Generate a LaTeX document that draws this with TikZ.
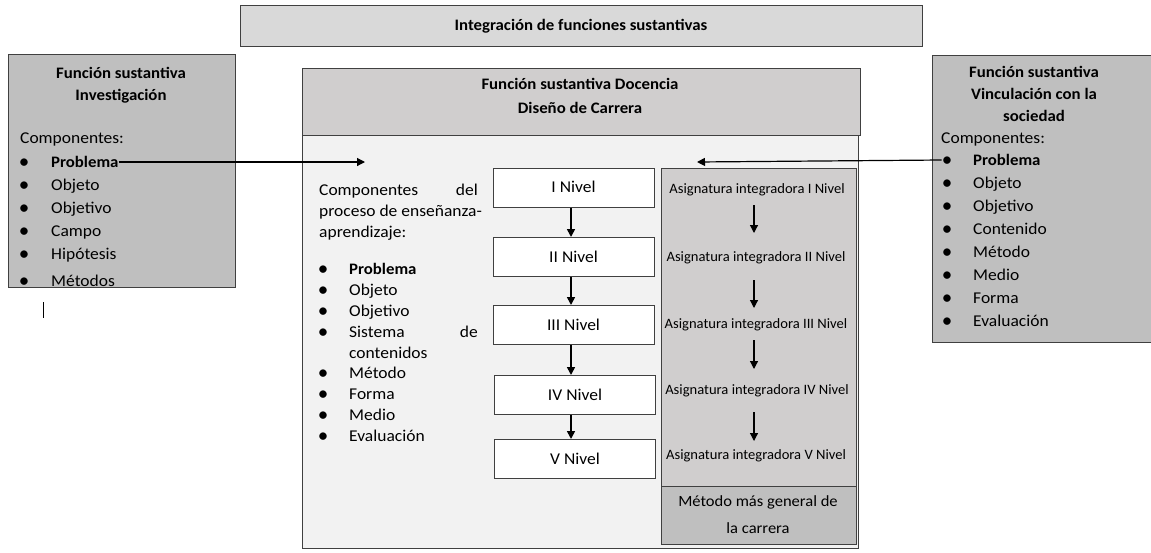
\documentclass[tikz,border=0pt]{standalone}
\usepackage{fontspec}
\setmainfont{Carlito}
\usetikzlibrary{arrows.meta}
\definecolor{topfill}{HTML}{D9D9D9}
\definecolor{sidefill}{HTML}{BFBFBF}
\definecolor{headfill}{HTML}{D0CECE}
\definecolor{bodyfill}{HTML}{F2F2F2}
\definecolor{edge}{HTML}{404040}
\newfontfamily\regfont[FakeStretch=1.06]{Carlito}
\newfontfamily\boldfont[FakeStretch=1.05]{Carlito Bold}
\newfontfamily\smallfont[FakeStretch=1.02]{Carlito}
\newcommand{\fr}{\regfont\fontsize{16.5}{19}\selectfont}
\newcommand{\fb}{\boldfont\fontsize{16}{19}\selectfont}
\newcommand{\fs}{\smallfont\fontsize{14.3}{17}\selectfont}
\newcommand{\fm}{\regfont\fontsize{15.6}{18}\selectfont}
\tikzset{
  frame/.style={draw=edge, line width=1pt},
  nivel/.style={frame, fill=white, minimum width=161pt, minimum height=39pt, inner sep=0pt, font=\fr, text depth=0pt, text height=10pt},
  t/.style={anchor=base west, inner sep=0pt, font=\fr},
  tr/.style={anchor=base east, inner sep=0pt, font=\fr},
  tc/.style={anchor=base, inner sep=0pt, font=\fb},
  tb/.style={anchor=base west, inner sep=0pt, font=\fb},
  asig/.style={anchor=base, inner sep=0pt, font=\fs},
  bul/.style={anchor=base, inner sep=0pt, font=\fontsize{21}{21}\selectfont},
  arr/.style={-{Triangle[length=8pt,width=8pt]}, line width=1.6pt},
  arrthin/.style={-{Triangle[length=8pt,width=8pt]}, line width=1.2pt},
}
\begin{document}
\begin{tikzpicture}[x=1pt,y=-1pt]
\useasboundingbox (0,0) rectangle (1151,552);
% top box
\node[frame, fill=topfill, minimum width=682pt, minimum height=41pt, anchor=north west, inner sep=0pt] (top) at (240,5) {};
\node[tc] (toptxt) at (581,30) {Integración de funciones sustantivas};

% left box
\node[frame, fill=sidefill, minimum width=227pt, minimum height=233pt, anchor=north west, inner sep=0pt] (left) at (8,54) {};
\node[tc] (lt1) at (121,78) {Función sustantiva};
\node[tc] (lt2) at (121,100) {Investigación};
\node[t] (lc) at (20,143) {Componentes:};
\begin{scope}
\clip (8,54) rectangle (235,286.5);
\node[bul] (lb1) at (24,168) {•};
\node[tb] (lp) at (51,167) {Problema};
\node[bul] (lb2) at (24,191) {•};
\node[t] (lo1) at (51,190) {Objeto};
\node[bul] (lb3) at (24,214) {•};
\node[t] (lo2) at (51,213) {Objetivo};
\node[bul] (lb4) at (24,237) {•};
\node[t] (lo3) at (51,236) {Campo};
\node[bul] (lb5) at (24,260) {•};
\node[t] (lo4) at (51,259) {Hipótesis};
\node[bul] (lb6) at (24,287) {•};
\node[t] (lo5) at (51,286.5) {Métodos};
\end{scope}
\coordinate (cur1) at (43,302);
\coordinate (cur2) at (43,318);
\draw[line width=1pt] (cur1) -- (cur2);

% middle big box
\node[frame, fill=bodyfill, minimum width=556pt, minimum height=480pt, anchor=north west, inner sep=0pt] (mid) at (302,68) {};
\node[frame, fill=headfill, minimum width=558pt, minimum height=67pt, anchor=north west, inner sep=0pt] (head) at (302,68) {};
\node[tc] (h1) at (580,89) {Función sustantiva Docencia};
\node[tc] (h2) at (580,113) {Diseño de Carrera};

\node[t] (c1) at (319,195) {Componentes};
\node[tr] (c1b) at (478,195) {del};
\node[t] (c2) at (319,216) {proceso de enseñanza-};
\node[t] (c3) at (319,237) {aprendizaje:};
\node[bul] (mb1) at (323,275) {•};
\node[tb] (m1) at (349,274) {Problema};
\node[bul] (mb2) at (323,296) {•};
\node[t] (m2) at (349,295) {Objeto};
\node[bul] (mb3) at (323,317) {•};
\node[t] (m3) at (349,316) {Objetivo};
\node[bul] (mb4) at (323,338) {•};
\node[t] (m4) at (349,337) {Sistema};
\node[tr] (m4b) at (478,337) {de};
\node[t] (m4c) at (349,358) {contenidos};
\node[bul] (mb5) at (323,379) {•};
\node[t] (m5) at (349,378) {Método};
\node[bul] (mb6) at (323,400) {•};
\node[t] (m6) at (349,399) {Forma};
\node[bul] (mb7) at (323,421) {•};
\node[t] (m7) at (349,420) {Medio};
\node[bul] (mb8) at (323,442) {•};
\node[t] (m8) at (349,441) {Evaluación};

% nivel boxes
\node[nivel] (n1) at (573.5,187.5) {I Nivel};
\node[nivel] (n2) at (573.5,257) {II Nivel};
\node[nivel] (n3) at (573.5,325) {III Nivel};
\node[nivel] (n4) at (575,395) {IV Nivel};
\node[nivel] (n5) at (575,459) {V Nivel};
\draw[arr] (n1.south -| 571,0) -- (n2.north -| 571,0);
\draw[arr] (n2.south -| 571,0) -- (n3.north -| 571,0);
\draw[arr] (n3.south -| 571,0) -- (n4.north -| 571,0);
\draw[arr] (n4.south -| 571,0) -- (n5.north -| 571,0);

% integrating column
\node[frame, fill=headfill, minimum width=195pt, minimum height=318pt, anchor=north west, inner sep=0pt] (col) at (661,168) {};
\node[frame, fill=sidefill, minimum width=195pt, minimum height=58pt, anchor=north west, inner sep=0pt] (met) at (661,486) {};
\node[asig, font=\fm] (met1) at (758,506) {Método más general de};
\node[asig, font=\fm] (met2) at (758,533) {la carrera};
\node[asig] (a1) at (757,193) {Asignatura integradora I Nivel};
\node[asig] (a2) at (756,261) {Asignatura integradora II Nivel};
\node[asig] (a3) at (756,328) {Asignatura integradora III Nivel};
\node[asig] (a4) at (757,394) {Asignatura integradora IV Nivel};
\node[asig] (a5) at (756,459) {Asignatura integradora V Nivel};
\coordinate (ar1a) at (754,205); \coordinate (ar1b) at (754,233);
\coordinate (ar2a) at (754,280); \coordinate (ar2b) at (754,308);
\coordinate (ar3a) at (754,340); \coordinate (ar3b) at (754,369);
\coordinate (ar4a) at (754,412); \coordinate (ar4b) at (754,441);
\draw[arrthin] (ar1a) -- (ar1b);
\draw[arrthin] (ar2a) -- (ar2b);
\draw[arrthin] (ar3a) -- (ar3b);
\draw[arrthin] (ar4a) -- (ar4b);

% right box
\node[frame, fill=sidefill, minimum width=220pt, minimum height=287pt, anchor=north west, inner sep=0pt] (right) at (932,55) {};
\node[tc] (rt1) at (1034,77) {Función sustantiva};
\node[tc] (rt2) at (1034,99) {Vinculación con la};
\node[tc] (rt3) at (1034,121) {sociedad};
\node[t] (rc) at (941,143) {Componentes:};
\node[bul] (rb1) at (947,166) {•};
\node[tb] (rp) at (973,165) {Problema};
\node[bul] (rb2) at (947,189) {•};
\node[t] (r2) at (973,188) {Objeto};
\node[bul] (rb3) at (947,212) {•};
\node[t] (r3) at (973,211) {Objetivo};
\node[bul] (rb4) at (947,235) {•};
\node[t] (r4) at (973,234) {Contenido};
\node[bul] (rb5) at (947,258) {•};
\node[t] (r5) at (973,257) {Método};
\node[bul] (rb6) at (947,281) {•};
\node[t] (r6) at (973,280) {Medio};
\node[bul] (rb7) at (947,304) {•};
\node[t] (r7) at (973,303) {Forma};
\node[bul] (rb8) at (947,327) {•};
\node[t] (r8) at (973,326) {Evaluación};

% connectors
\coordinate (inL) at (365,162);
\coordinate (inR) at (697,162);
\draw[arrthin] (lp.east |- 0,162) -- (inL);
\draw[arrthin] (rb1.west |- 0,160) -- (inR);
\end{tikzpicture}
\end{document}
